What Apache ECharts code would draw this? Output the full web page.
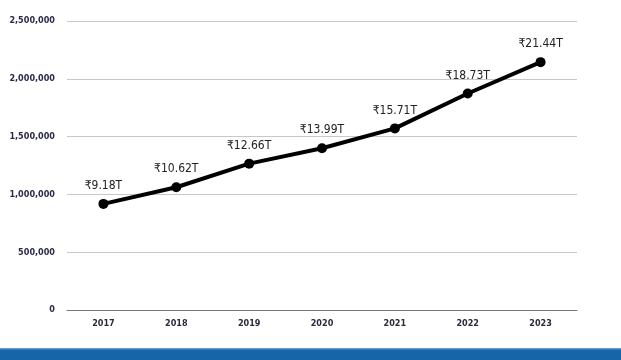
<!DOCTYPE html>
<html><head><meta charset="utf-8">
<script src="https://cdn.jsdelivr.net/npm/echarts@6/dist/echarts.min.js"></script>
<style>html,body{margin:0;padding:0;background:#fff}#c{width:621px;height:360px}</style>
</head><body><div id="c"></div>
<script>
const categories = ['2017','2018','2019','2020','2021','2022','2023'];
const values = [918000, 1062000, 1266000, 1399000, 1571000, 1873000, 2144000];
const labels = ['₹9.18T','₹10.62T','₹12.66T','₹13.99T','₹15.71T','₹18.73T','₹21.44T'];
const yTicks = [0, 500000, 1000000, 1500000, 2000000, 2500000];

const font = '"DejaVu Sans Condensed", "Liberation Sans Narrow", sans-serif';
const chart = echarts.init(document.getElementById('c'), null, {renderer:'canvas'});
chart.setOption({
  animation:false,
  backgroundColor:'#fff',
  grid:{left:67,right:44,top:21,bottom:50},
  xAxis:{
    type:'category', data:categories, boundaryGap:true,
    axisLine:{show:true,lineStyle:{color:'#777',width:1}},
    axisTick:{show:false},
    axisLabel:{color:'#2a2a3a',fontFamily:font,fontSize:9,fontWeight:'bold',margin:9}
  },
  yAxis:{
    type:'value', min:yTicks[0], max:yTicks[yTicks.length-1], interval:500000,
    axisLine:{show:false}, axisTick:{show:false},
    splitLine:{lineStyle:{color:'#c8c8c8',width:1}},
    axisLabel:{color:'#2a2a4a',fontFamily:font,fontSize:9,fontWeight:'bold',margin:12,
      formatter:v=>v.toLocaleString('en-US')}
  },
  series:[{
    type:'line', data:values,
    symbol:'circle', symbolSize:10,
    lineStyle:{color:'#000',width:4},
    itemStyle:{color:'#000'},
    label:{show:true,position:'top',distance:7,color:'#222',fontFamily:font,fontSize:12,
      formatter:p=>labels[p.dataIndex]}
  }],
  graphic:[{type:'rect',shape:{x:0,y:349,width:621,height:11},style:{fill:'#1565a8'},silent:true},
           {type:'rect',shape:{x:0,y:348,width:621,height:1.5},style:{fill:'#5b9bd0'},silent:true}]
});
</script></body></html>
